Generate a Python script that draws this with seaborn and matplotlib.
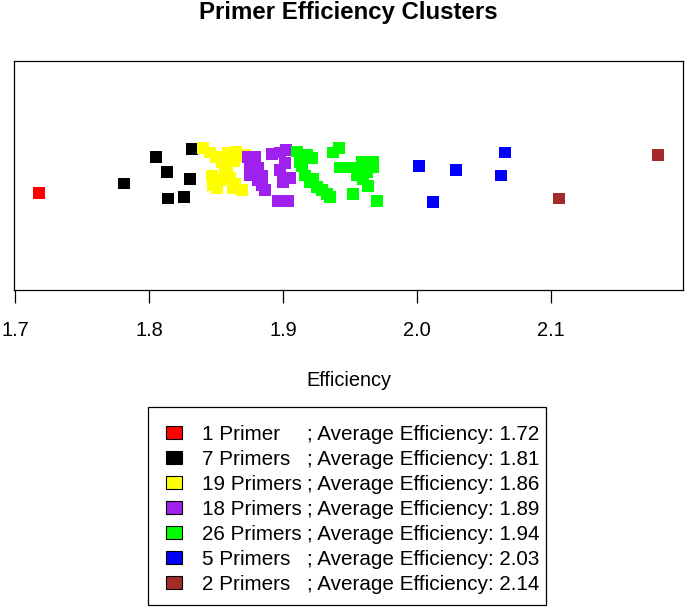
import pandas as pd
import matplotlib
matplotlib.use("Agg")
import matplotlib.pyplot as plt
from matplotlib.patches import Patch, Rectangle
import seaborn as sb

#----------------------------------------------------
red_eff = [1.7177]
red_jit = [-0.15]

black_eff = [1.8050, 1.8319, 1.8132, 1.7816, 1.8308, 1.8139, 1.8259]
black_jit = [0.16, 0.23, 0.03, -0.07, -0.03, -0.20, -0.19]

yellow_eff = [1.8403, 1.8455, 1.8500, 1.8545, 1.8582, 1.8590, 1.8649, 1.8679, 1.8634, 1.8567,
              1.8530, 1.8478, 1.8507, 1.8604, 1.8642, 1.8694, 1.8627, 1.8716, 1.8470]
yellow_jit = [0.24, 0.20, 0.16, 0.12, 0.07, 0.20, 0.21, 0.17, 0.13, 0.03,
              -0.04, -0.08, -0.11, -0.02, -0.07, -0.13, -0.11, 0.18, 0.00]

purple_eff = [1.8739, 1.8791, 1.8754, 1.8813, 1.8843, 1.8813, 1.8843, 1.8866, 1.8918,
              1.8978, 1.9022, 1.9015, 1.8978, 1.9052, 1.8999, 1.8963, 1.9037, 1.8754]
purple_jit = [0.16, 0.16, 0.09, 0.07, 0.00, -0.04, -0.08, -0.13, 0.19,
              0.20, 0.22, 0.11, 0.05, -0.02, -0.06, -0.22, -0.22, 0.00]

green_eff = [1.9102, 1.9177, 1.9214, 1.9139, 1.9164, 1.9201, 1.9251, 1.9289, 1.9351,
             1.9375, 1.9420, 1.9425, 1.9513, 1.9587, 1.9674, 1.9550, 1.9625, 1.9674,
             1.9637, 1.9599, 1.9525, 1.9699, 1.9127, 1.9226, 1.9326, 1.9562]
green_jit = [0.21, 0.18, 0.15, 0.08, 0.00, -0.06, -0.10, -0.13, -0.19,
             0.20, 0.24, 0.07, 0.07, 0.12, 0.12, 0.00, 0.03, 0.07,
             -0.09, -0.03, -0.16, -0.22, 0.12, -0.03, -0.16, 0.07]

blue_eff = [2.0013, 2.0289, 2.0659, 2.0625, 2.0119]
blue_jit = [0.08, 0.05, 0.20, 0.00, -0.23]

brown_eff = [2.1060, 2.1801]
brown_jit = [-0.20, 0.18]

cluster_names = ["red", "black", "yellow", "purple", "green", "blue", "brown"]
cluster_colors = ["#FF0000", "#000000", "#FFFF00", "#A020F0", "#00FF00", "#0000FF", "#A52A2A"]
x_ticks = [1.7, 1.8, 1.9, 2.0, 2.1]
x_tick_labels = ["1.7", "1.8", "1.9", "2.0", "2.1"]

# BUILD TABLE
#----------------------------------------------------
eff_lists = [red_eff, black_eff, yellow_eff, purple_eff, green_eff, blue_eff, brown_eff]
jit_lists = [red_jit, black_jit, yellow_jit, purple_jit, green_jit, blue_jit, brown_jit]
rows = []
for name, effs, jits in zip(cluster_names, eff_lists, jit_lists):
    for e, j in zip(effs, jits):
        rows.append({"cluster": name, "eff": e, "jitter": j})
df = pd.DataFrame(rows)

plt.rcParams["font.family"] = ["Liberation Sans", "DejaVu Sans"]

# PLOT
#----------------------------------------------------
fig = plt.figure(figsize=(6.85, 6.08), dpi=100)
ax = fig.add_axes([14/685, 1-290/608, 669/685, 229/608])

sb.scatterplot(data=df, x="eff", y="jitter", hue="cluster", hue_order=cluster_names,
               palette=dict(zip(cluster_names, cluster_colors)), marker="s", s=72,
               linewidth=0, legend=False, ax=ax)

lo, hi = df["eff"].min(), df["eff"].max()
pad = 0.04*(hi-lo)
ax.set_xlim(lo-pad, hi+pad)
ax.set_ylim(-1, 1)
ax.set_yticks([])
ax.set_ylabel("")
ax.set_xticks(x_ticks)
ax.set_xticklabels(x_tick_labels)
ax.tick_params(axis="x", length=9.4, width=0.9, labelsize=14.4, pad=12.6)
ax.set_xlabel("Efficiency", fontsize=14.4, labelpad=23)
for sp in ax.spines.values():
    sp.set_linewidth(0.9)
    sp.set_color("black")

fig.text(348/685, 1-13/608, "Primer Efficiency Clusters", ha="center", va="center",
         fontsize=17.3, fontweight="bold")

# LEGEND
#----------------------------------------------------
count_labels = []
avg_labels = []
for effs in eff_lists:
    n = len(effs)
    count_labels.append(f"{n} Primer" + ("s" if n > 1 else ""))
    avg_labels.append(f"; Average Efficiency: {sum(effs)/n:.2f}")

handles = [Patch(facecolor=c, edgecolor="black", linewidth=0.8) for c in cluster_colors]
handles += [Patch(facecolor="none", edgecolor="none") for _ in cluster_colors]
leg = fig.legend(handles, count_labels + avg_labels, ncol=2, loc="upper left",
                 bbox_to_anchor=(148/685, 1-407/608), borderaxespad=0, fontsize=14.9,
                 handlelength=0.78, handleheight=0.58, handletextpad=1.0,
                 columnspacing=-1.55, labelspacing=0.29, borderpad=0.85,
                 frameon=False)

# legend box drawn separately so it hugs the rows like the R legend does
fig.patches.append(Rectangle((148/685, 1-605/608), 398/685, 198/608,
                             transform=fig.transFigure, fill=False,
                             edgecolor="black", linewidth=0.9))

plt.savefig("out.png", dpi=100)
